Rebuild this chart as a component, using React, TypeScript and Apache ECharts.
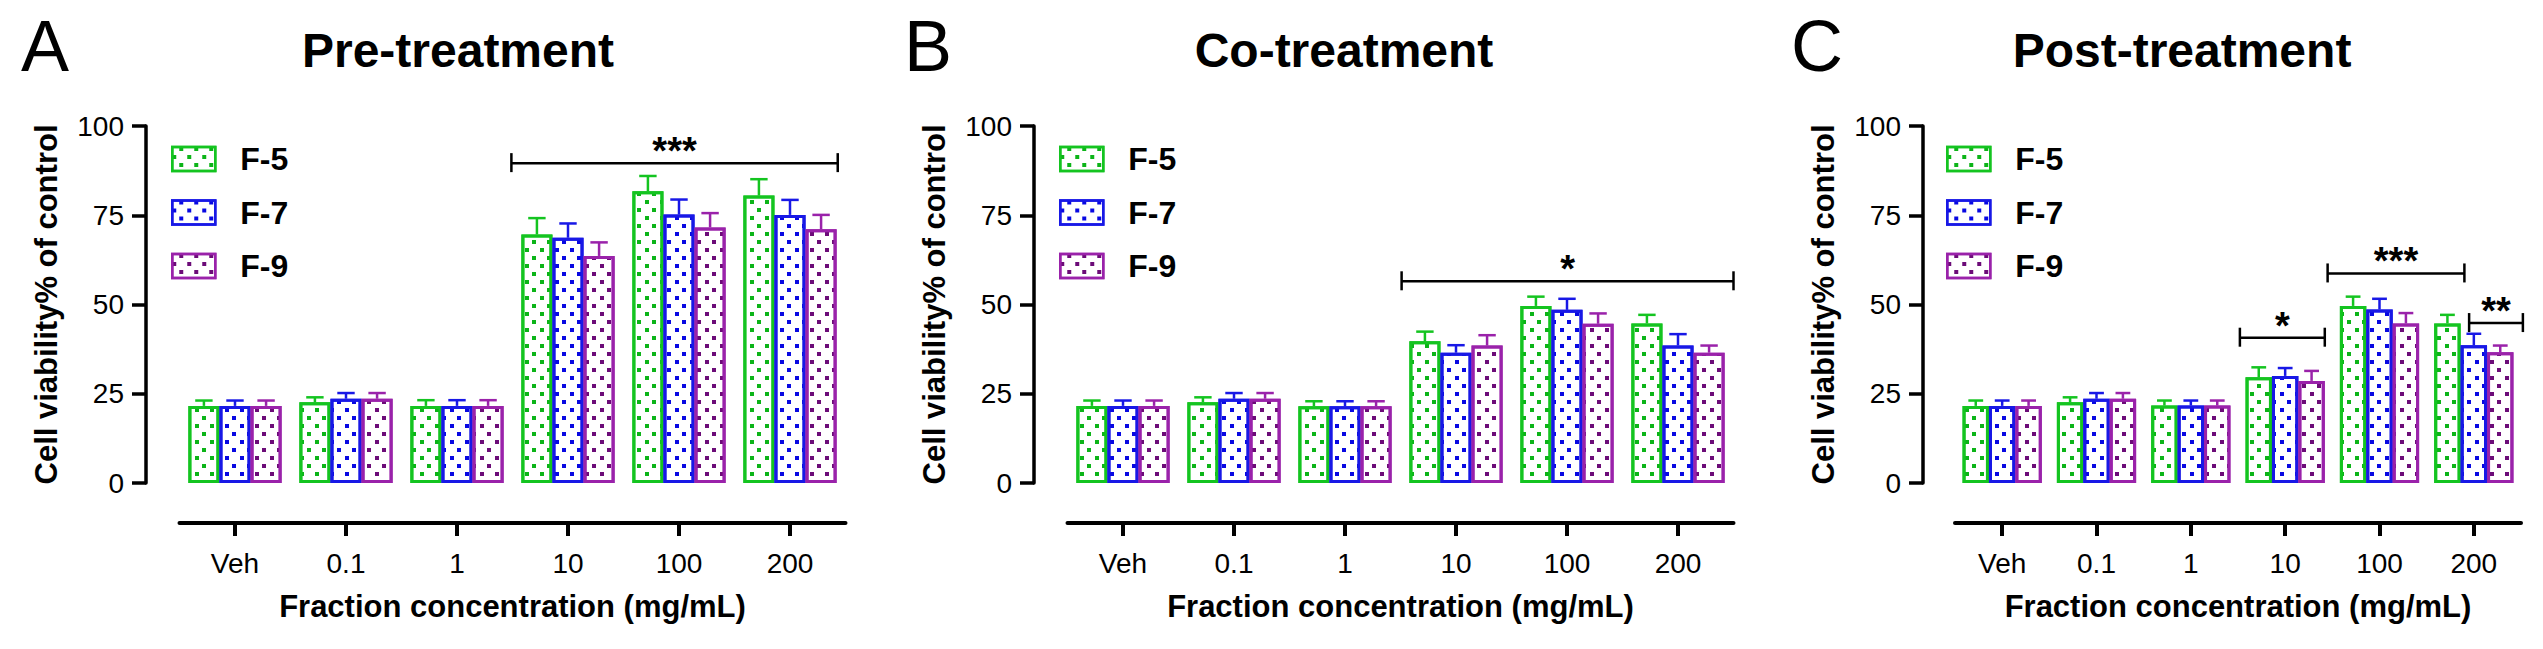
import React, { useEffect, useRef } from 'react';
import * as echarts from 'echarts';

// ---------------- data ----------------
const CATEGORIES = ['Veh', '0.1', '1', '10', '100', '200'];
const FRACTIONS = ['F-5', 'F-7', 'F-9'];
const PANEL_LETTERS = ['A', 'B', 'C'];
const PANEL_TITLES = ['Pre-treatment', 'Co-treatment', 'Post-treatment'];
const Y_MIN = 0;
const Y_MAX = 100;
const Y_INTERVAL = 25;
const Y_NAME = 'Cell viability% of control';
const X_NAME = 'Fraction concentration (mg/mL)';

// Pre-treatment (A)
const PRE_F5 = [21.6, 22.6, 21.6, 69.6, 81.7, 80.5];
const PRE_F7 = [21.6, 23.6, 21.6, 68.7, 75.2, 75.1];
const PRE_F9 = [21.6, 23.6, 21.6, 63.6, 71.6, 71.1];
const PRE_F5_SEM = [1.5, 1.4, 1.6, 4.6, 4.3, 4.6];
const PRE_F7_SEM = [1.5, 1.6, 1.6, 4.0, 4.2, 4.2];
const PRE_F9_SEM = [1.5, 1.6, 1.6, 3.8, 4.0, 4.0];

// Co-treatment (B)
const CO_F5 = [21.6, 22.6, 21.5, 39.7, 49.6, 44.7];
const CO_F7 = [21.6, 23.6, 21.5, 36.5, 48.5, 38.5];
const CO_F9 = [21.6, 23.6, 21.5, 38.5, 44.6, 36.5];
const CO_F5_SEM = [1.5, 1.4, 1.4, 2.7, 2.6, 2.4];
const CO_F7_SEM = [1.5, 1.6, 1.4, 2.1, 3.1, 3.2];
const CO_F9_SEM = [1.5, 1.6, 1.4, 2.9, 2.9, 2.0];

// Post-treatment (C)
const POST_F5 = [21.6, 22.6, 21.7, 29.6, 49.6, 44.7];
const POST_F7 = [21.6, 23.6, 21.7, 30.0, 48.6, 38.6];
const POST_F9 = [21.6, 23.6, 21.7, 28.6, 44.7, 36.6];
const POST_F5_SEM = [1.5, 1.4, 1.4, 2.8, 2.6, 2.4];
const POST_F7_SEM = [1.5, 1.6, 1.4, 2.2, 3.0, 3.2];
const POST_F9_SEM = [1.5, 1.6, 1.4, 2.8, 2.9, 1.9];

// significance brackets: from/to in category-index units, y in data units
const PRE_BRACKETS = [{ from: 2.49, to: 5.43, y: 89.6, label: '***' }];
const CO_BRACKETS = [{ from: 2.51, to: 5.5, y: 56.5, label: '*' }];
const POST_BRACKETS = [
  { from: 2.52, to: 3.42, y: 40.7, label: '*' },
  { from: 3.45, to: 4.9, y: 58.7, label: '***' },
  { from: 4.95, to: 5.52, y: 44.8, label: '**' },
];

const PANEL_MEANS = [
  [PRE_F5, PRE_F7, PRE_F9],
  [CO_F5, CO_F7, CO_F9],
  [POST_F5, POST_F7, POST_F9],
];
const PANEL_SEMS = [
  [PRE_F5_SEM, PRE_F7_SEM, PRE_F9_SEM],
  [CO_F5_SEM, CO_F7_SEM, CO_F9_SEM],
  [POST_F5_SEM, POST_F7_SEM, POST_F9_SEM],
];
const PANEL_BRACKETS = [PRE_BRACKETS, CO_BRACKETS, POST_BRACKETS];

// ---------------- style / layout ----------------
const FONT = '"Liberation Sans", Arial, Helvetica, sans-serif';
const BORDER_COLORS = ['#14C420', '#1818E6', '#9A22AA'];
const DOT_COLORS = ['#0CB418', '#0808E2', '#6C0C78'];
const CATEGORY_GAP = 0.16;

const GRID_TOP = 126;
const GRID_HEIGHT = 357;
const LAYOUT = [
  { yAxisX: 146, gridLeft: 179.5, gridWidth: 666, letterX: 21, titleX: 458, legendX: 171 },
  { yAxisX: 1034, gridLeft: 1067.5, gridWidth: 666, letterX: 904, titleX: 1344, legendX: 1059 },
  { yAxisX: 1923, gridLeft: 1955, gridWidth: 566, letterX: 1791, titleX: 2182, legendX: 1946 },
];

function makeDecal(color: string) {
  return {
    symbol: 'rect',
    symbolSize: 1,
    color,
    backgroundColor: 'rgba(0,0,0,0)',
    dashArrayX: [
      [4, 11],
      [0, 7, 4, 4],
    ],
    dashArrayY: [4, 4],
    rotation: 0,
  };
}

function buildOption() {
  const grid: any[] = [];
  const xAxis: any[] = [];
  const yAxis: any[] = [];
  const series: any[] = [];
  const legend: any[] = [];
  const graphic: any[] = [];

  LAYOUT.forEach((L, p) => {
    grid.push({ left: L.gridLeft, top: GRID_TOP, width: L.gridWidth, height: GRID_HEIGHT, containLabel: false });
    xAxis.push({
      type: 'category',
      gridIndex: p,
      data: CATEGORIES,
      position: 'bottom',
      offset: 40,
      boundaryGap: true,
      axisLine: { show: true, onZero: false, lineStyle: { color: '#000', width: 4 } },
      axisTick: { show: true, alignWithLabel: true, length: 13, lineStyle: { color: '#000', width: 4 } },
      axisLabel: { color: '#000', fontSize: 28, fontFamily: FONT, margin: 26 },
      splitLine: { show: false },
      name: X_NAME,
      nameLocation: 'middle',
      nameGap: 68,
      nameTextStyle: { color: '#000', fontSize: 31, fontWeight: 'bold', fontFamily: FONT },
    });
    yAxis.push({
      type: 'value',
      gridIndex: p,
      min: Y_MIN,
      max: Y_MAX,
      interval: Y_INTERVAL,
      position: 'left',
      offset: L.gridLeft - L.yAxisX,
      axisLine: { show: true, onZero: false, lineStyle: { color: '#000', width: 3.5 } },
      axisTick: { show: true, length: 14, lineStyle: { color: '#000', width: 3.5 } },
      axisLabel: { color: '#000', fontSize: 28, fontFamily: FONT, margin: 22 },
      splitLine: { show: false },
      name: Y_NAME,
      nameLocation: 'middle',
      nameGap: 84,
      nameTextStyle: { color: '#000', fontSize: 31, fontWeight: 'bold', fontFamily: FONT },
    });

    FRACTIONS.forEach((name, s) => {
      series.push({
        type: 'bar',
        name,
        xAxisIndex: p,
        yAxisIndex: p,
        data: PANEL_MEANS[p][s],
        barGap: '0%',
        barCategoryGap: CATEGORY_GAP * 100 + '%',
        itemStyle: {
          color: '#ffffff',
          borderColor: BORDER_COLORS[s],
          borderWidth: 3,
          decal: makeDecal(DOT_COLORS[s]),
        },
        emphasis: { disabled: true },
        z: 2,
      });
    });

    FRACTIONS.forEach((name, s) => {
      const means = PANEL_MEANS[p][s];
      const sems = PANEL_SEMS[p][s];
      series.push({
        type: 'custom',
        name: name + ' SEM',
        xAxisIndex: p,
        yAxisIndex: p,
        data: means.map((m, i) => [i, m, sems[i]]),
        z: 3,
        silent: true,
        renderItem: (params: any, api: any) => {
          const ci = api.value(0);
          const m = api.value(1);
          const e = api.value(2);
          const band = api.size([1, 0])[0];
          const barW = (band * (1 - CATEGORY_GAP)) / 3;
          const cx = api.coord([ci, 0])[0] + (s - 1) * barW;
          const yTop = api.coord([ci, m])[1];
          const yHi = api.coord([ci, m + e])[1];
          const half = barW * 0.28;
          const st = { stroke: BORDER_COLORS[s], lineWidth: 2.5 };
          return {
            type: 'group',
            children: [
              { type: 'line', shape: { x1: cx, y1: yTop, x2: cx, y2: yHi }, style: st },
              { type: 'line', shape: { x1: cx - half, y1: yHi, x2: cx + half, y2: yHi }, style: st },
            ],
          };
        },
      });
    });

    const brackets = PANEL_BRACKETS[p];
    series.push({
      type: 'custom',
      name: 'significance',
      xAxisIndex: p,
      yAxisIndex: p,
      data: brackets.map((b) => [Math.round(b.from), b.y]),
      z: 4,
      silent: true,
      renderItem: (params: any, api: any) => {
        const b = brackets[params.dataIndex];
        const band = api.size([1, 0])[0];
        const origin = api.coord([0, b.y]);
        const y = origin[1];
        const xa = origin[0] + b.from * band;
        const xb = origin[0] + b.to * band;
        const st = { stroke: '#000', lineWidth: 2.5 };
        return {
          type: 'group',
          children: [
            { type: 'line', shape: { x1: xa, y1: y, x2: xb, y2: y }, style: st },
            { type: 'line', shape: { x1: xa, y1: y - 10, x2: xa, y2: y + 9 }, style: st },
            { type: 'line', shape: { x1: xb, y1: y - 10, x2: xb, y2: y + 9 }, style: st },
            {
              type: 'text',
              x: (xa + xb) / 2,
              y: y - 12,
              style: {
                text: b.label,
                fill: '#000',
                font: 'bold 38px ' + FONT,
                textAlign: 'center',
                textVerticalAlign: 'middle',
                align: 'center',
                verticalAlign: 'middle',
              },
            },
          ],
        };
      },
    });

    legend.push({
      data: FRACTIONS,
      orient: 'vertical',
      left: L.legendX,
      top: 143,
      padding: 0,
      itemWidth: 43,
      itemHeight: 24,
      itemGap: 21.5,
      icon: 'rect',
      selectedMode: false,
      itemStyle: { borderWidth: 2.5 },
      textStyle: {
        color: '#000',
        fontSize: 32,
        fontWeight: 'bold',
        fontFamily: FONT,
        lineHeight: 32,
        padding: [0, 0, 0, 20],
      },
    });

    graphic.push({
      type: 'text',
      x: L.letterX,
      y: 46,
      style: {
        text: PANEL_LETTERS[p],
        fill: '#000',
        font: '72px ' + FONT,
        textAlign: 'left',
        textVerticalAlign: 'middle',
        align: 'left',
        verticalAlign: 'middle',
      },
    });
    graphic.push({
      type: 'text',
      x: L.titleX,
      y: 50,
      style: {
        text: PANEL_TITLES[p],
        fill: '#000',
        font: 'bold 48px ' + FONT,
        textAlign: 'center',
        textVerticalAlign: 'middle',
        align: 'center',
        verticalAlign: 'middle',
      },
    });
  });

  return {
    animation: false,
    backgroundColor: '#ffffff',
    textStyle: { fontFamily: FONT },
    grid,
    xAxis,
    yAxis,
    series,
    legend,
    graphic,
  };
}

export default function App() {
  const ref = useRef<HTMLDivElement>(null);
  useEffect(() => {
    document.body.style.margin = '0';
    document.body.style.overflow = 'hidden';
    if (!ref.current) return;
    const chart = echarts.init(ref.current, null, { renderer: 'svg' });
    chart.setOption(buildOption() as any);
    return () => {
      chart.dispose();
    };
  }, []);
  return <div ref={ref} style={{ width: 2543, height: 649, background: '#fff' }} />;
}
